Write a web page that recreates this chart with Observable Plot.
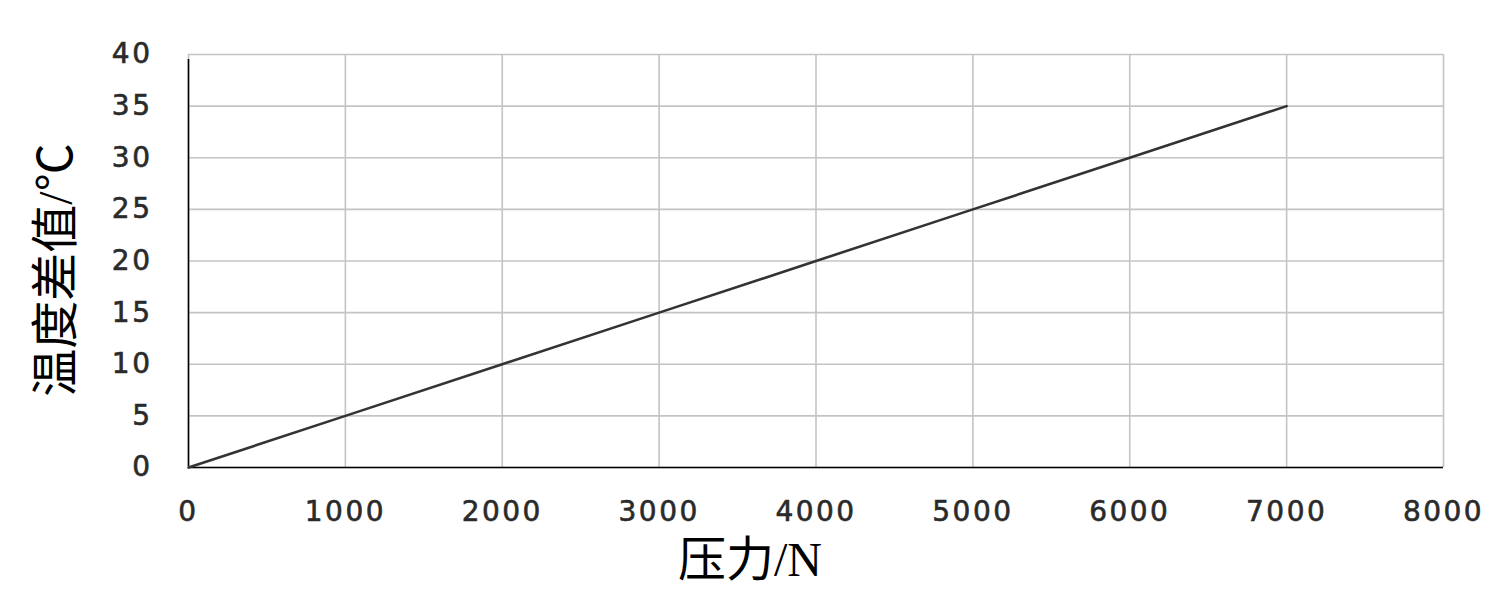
<!DOCTYPE html>
<html>
<head>
<meta charset="utf-8">
<script src="https://cdn.jsdelivr.net/npm/d3@7"></script>
<script src="https://cdn.jsdelivr.net/npm/@observablehq/plot@0.6"></script>
<style>
  html, body { margin: 0; padding: 0; background: #fff; }
  #chart svg { display: block; }
  #chart svg g[aria-label="x-axis tick label"] text,
  #chart svg g[aria-label="y-axis tick label"] text { letter-spacing: 2.5px; stroke: #2a2a2a; stroke-width: 0.6px; }
</style>
</head>
<body>
<div id="chart"></div>
<script>
// Data
const pressure = [0, 1000, 2000, 3000, 4000, 5000, 6000, 7000];
const tempDiff = [0, 5, 10, 15, 20, 25, 30, 35];
const xTicks = [0, 1000, 2000, 3000, 4000, 5000, 6000, 7000, 8000];
const yTicks = [0, 5, 10, 15, 20, 25, 30, 35, 40];
const xTitle = "压力/N";
const yTitle = "温度差值/℃";

const data = pressure.map((p, i) => ({x: p, y: tempDiff[i]}));

const tickFont = "'DejaVu Sans', Verdana, sans-serif";
const titleFont = "'Liberation Serif', 'Noto Sans CJK SC', serif";

const chart = Plot.plot({
  width: 1497,
  height: 605,
  marginLeft: 188,
  marginRight: 54,
  marginTop: 54,
  marginBottom: 138,
  style: {background: "#fff"},
  x: {domain: [0, 8000]},
  y: {domain: [0, 40]},
  marks: [
    Plot.gridX(xTicks, {stroke: "#c4c4c4", strokeOpacity: 1, strokeWidth: 1.6}),
    Plot.gridY(yTicks, {stroke: "#c4c4c4", strokeOpacity: 1, strokeWidth: 1.6}),
    Plot.axisX(xTicks, {tickSize: 0, tickPadding: 34, fontSize: 28, fontFamily: tickFont, fill: "#2a2a2a", label: null, tickFormat: d => String(d)}),
    Plot.axisY(yTicks, {tickSize: 0, tickPadding: 36, fontSize: 28, fontFamily: tickFont, fill: "#2a2a2a", label: null, tickFormat: d => String(d)}),
    Plot.ruleY([0], {stroke: "#000", strokeWidth: 1.6}),
    Plot.ruleX([0], {stroke: "#000", strokeWidth: 1.6, y1: 0, y2: 40, insetBottom: -5, insetTop: -1}),
    Plot.line(data, {x: "x", y: "y", stroke: "#333", strokeWidth: 2.6}),
    Plot.text([xTitle], {frameAnchor: "bottom", textAnchor: "middle", dx: -66, dy: 108, fontSize: 48, fontFamily: titleFont, fill: "#000", text: d => d}),
    Plot.text([yTitle], {frameAnchor: "left", textAnchor: "middle", dx: -132, dy: 9, rotate: -90, fontSize: 48, fontFamily: titleFont, fill: "#000", text: d => d})
  ]
});
document.getElementById("chart").appendChild(chart);
</script>
</body>
</html>
